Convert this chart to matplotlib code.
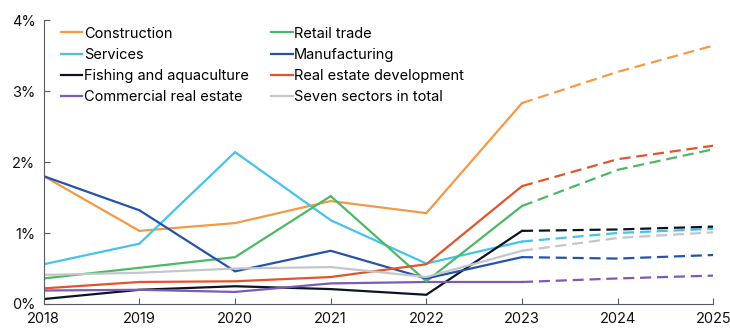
import matplotlib.pyplot as plt
from matplotlib.ticker import FuncFormatter

plt.rcParams['font.family'] = ['Inter', 'DejaVu Sans']

years = [2018, 2019, 2020, 2021, 2022, 2023, 2024, 2025]
last_actual = 2023  # projections start here

construction = [1.80, 1.03, 1.14, 1.45, 1.28, 2.83, 3.27, 3.64]
services = [0.56, 0.85, 2.14, 1.18, 0.57, 0.88, 1.00, 1.06]
fishing = [0.07, 0.20, 0.25, 0.21, 0.13, 1.03, 1.05, 1.09]
commercial_re = [0.19, 0.20, 0.17, 0.29, 0.31, 0.31, 0.36, 0.40]
retail = [0.36, 0.51, 0.66, 1.52, 0.32, 1.38, 1.89, 2.18]
manufacturing = [1.80, 1.32, 0.46, 0.75, 0.36, 0.66, 0.64, 0.69]
re_development = [0.22, 0.31, 0.32, 0.38, 0.56, 1.66, 2.04, 2.23]
seven_total = [0.41, 0.44, 0.50, 0.52, 0.38, 0.75, 0.93, 1.01]

series = [
    ('Construction', construction, '#F39A45'),
    ('Services', services, '#45C3EA'),
    ('Fishing and aquaculture', fishing, '#0B1423'),
    ('Commercial real estate', commercial_re, '#7A5BB5'),
    ('Retail trade', retail, '#4DB866'),
    ('Manufacturing', manufacturing, '#2553AA'),
    ('Real estate development', re_development, '#E2542B'),
    ('Seven sectors in total', seven_total, '#C4C6CB'),
]

fig = plt.figure(figsize=(7.3, 3.29), dpi=100)
ax = fig.add_axes([0.060, 0.076, 0.917, 0.863])

k = years.index(last_actual)
for name, vals, col in series:
    ax.plot(years[:k + 1], vals[:k + 1], color=col, lw=1.6, label=name,
            solid_joinstyle='miter')
    ax.plot(years[k:], vals[k:], color=col, lw=1.6, dashes=(5, 2.6))

ax.set_xlim(2018, 2025)
ax.set_ylim(0, 4)
ax.set_xticks(years)
ax.set_yticks([0, 1, 2, 3, 4])
ax.yaxis.set_major_formatter(FuncFormatter(lambda v, p: f'{v:.0f}%'))

for s in ['top', 'right']:
    ax.spines[s].set_visible(False)
for s in ['left', 'bottom']:
    ax.spines[s].set_color('#555a66')
    ax.spines[s].set_linewidth(0.8)
ax.tick_params(direction='in', length=4, width=0.8, color='#555a66',
               labelsize=10.5, labelcolor='#111111', pad=6)

ax.legend(ncol=2, loc='upper left', bbox_to_anchor=(0.012, 1.008),
          frameon=False, fontsize=10.5, handlelength=1.5, handletextpad=0.1,
          columnspacing=1.5, labelspacing=0.5, borderaxespad=0.2)

fig.savefig('out.png', dpi=100)
